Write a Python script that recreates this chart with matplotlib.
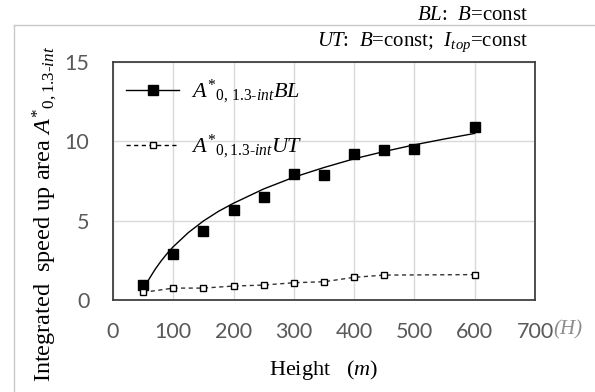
import numpy as np
import matplotlib.pyplot as plt
from matplotlib.lines import Line2D

plt.rcParams['font.family'] = ['Liberation Serif']
plt.rcParams['mathtext.fontset'] = 'custom'
plt.rcParams['mathtext.rm'] = 'Liberation Serif'
plt.rcParams['mathtext.it'] = 'Liberation Serif:italic'
plt.rcParams['mathtext.bf'] = 'Liberation Serif:bold'

# data
height = [50, 100, 150, 200, 250, 300, 350, 400, 450, 500, 600]
area_bl = [0.95, 2.9, 4.35, 5.7, 6.5, 7.95, 7.9, 9.2, 9.45, 9.5, 10.9]

# trend line of BL
trend_h = [50, 60, 70, 80, 90, 100, 125, 150, 175, 200, 250, 300, 350, 400, 450, 500, 550, 600]
trend_bl = [0.6, 1.33, 1.94, 2.47, 2.94, 3.36, 4.25, 4.98, 5.59, 6.1, 7.0, 7.74, 8.35, 8.9, 9.36, 9.78, 10.15, 10.5]

height_ut = [50, 100, 150, 200, 250, 300, 350, 400, 450, 600]
area_ut = [0.48, 0.75, 0.75, 0.88, 0.94, 1.09, 1.15, 1.43, 1.57, 1.6]

xticks = [0, 100, 200, 300, 400, 500, 600, 700]
yticks = [0, 5, 10, 15]

lbl_bl = r'$A^{*}{}_{\mathit{0,\,1.3}\text{-}\mathit{int}}\mathit{BL}$'
lbl_ut = r'$A^{*}{}_{\mathit{0,1.3}\text{-}\mathit{int}}\mathit{UT}$'

fig = plt.figure(figsize=(5.95, 3.92), dpi=100)
ax = fig.add_axes([113/595, 1 - 300/392, 422/595, 238/392])

ax.plot(trend_h, trend_bl, color='k', lw=1.0, zorder=3)
ax.plot(height, area_bl, ls='none', marker='s', ms=7.2, color='k', zorder=4)
ax.plot(height_ut, area_ut, ls=(0, (3, 2.5)), lw=1.0, color='#333333',
        marker='s', ms=5, mfc='white', mec='k', mew=1.0, zorder=4)

ax.set_xlim(0, 700)
ax.set_ylim(0, 15)
ax.set_xticks(xticks)
ax.set_yticks(yticks)
ax.grid(True, color='#d9d9d9', lw=1.0)
ax.set_axisbelow(True)
for s in ax.spines.values():
    s.set_color('#404040')
    s.set_linewidth(1.3)

ax.tick_params(length=0, labelsize=15.5, labelcolor='#595959', pad=17)
for t in ax.get_xticklabels() + ax.get_yticklabels():
    t.set_fontfamily('Lato')
ax.tick_params(axis='x', pad=16)

# the (H) after 700
ax.text(553/595, 1 - 330/392, '(H)', transform=fig.transFigure, fontsize=15,
        style='italic', color='#8c8c8c', ha='left', va='center')

ax.set_xlabel(r'Height   $(\mathit{m})$', fontsize=16, labelpad=11)
fig.text(45/595, 1 - 214/392,
         r'Integrated  speed up area $A^{*}{}_{\mathit{0,1.3}\text{-}\mathit{int}}$',
         rotation=90, fontsize=17.5, ha='center', va='center')

h_bl = Line2D([], [], color='k', lw=1.0, marker='s', ms=7.2)
h_ut = Line2D([], [], color='k', lw=1.0, ls=(0, (3, 2.5)), marker='s', ms=5,
              mfc='white', mec='k')
ax.legend([h_bl, h_ut], [lbl_bl, lbl_ut], loc='upper left', frameon=False,
          fontsize=16, handlelength=2.4, handletextpad=0.5, labelspacing=1.2,
          bbox_to_anchor=(0.01, 0.97), borderaxespad=0)

# notes at the top right
fig.text(528/595, 1 - 15/392, r'$\mathit{BL}$:  $\mathit{B}$=const', fontsize=15,
         ha='right', va='center')
fig.text(528/595, 1 - 42/392,
         r'$\mathit{UT}$:  $\mathit{B}$=const;  $\mathit{I_{top}}$=const',
         fontsize=15, ha='right', va='center')

# chart area frame
fig.add_artist(Line2D([14/595, 14/595], [0, 1 - 25/392], transform=fig.transFigure,
                      color='#c8c8c8', lw=1.0))
fig.add_artist(Line2D([14/595, 1], [1 - 25/392, 1 - 25/392], transform=fig.transFigure,
                      color='#c8c8c8', lw=1.0))

fig.savefig('out.png', dpi=100)
